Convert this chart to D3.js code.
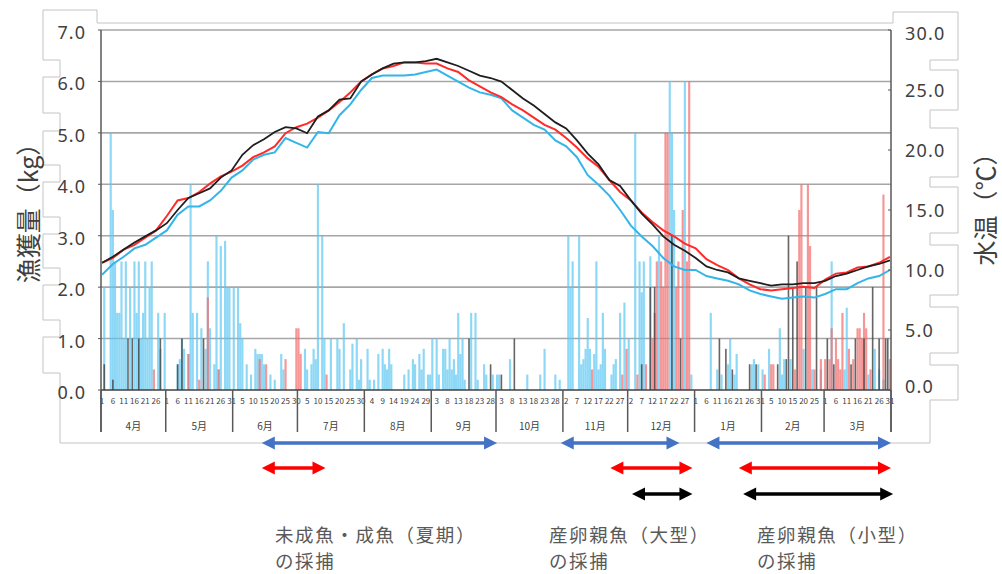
<!DOCTYPE html>
<html><head><meta charset="utf-8">
<script src="https://cdn.jsdelivr.net/npm/d3@7"></script>
<style>
html,body{margin:0;padding:0;background:#fff;}
svg{display:block;}
text{font-family:"Noto Sans CJK JP","Noto Sans",sans-serif;}
.num{font-family:"Noto Sans","DejaVu Sans",sans-serif;}
</style></head><body>
<svg id="chart" width="1002" height="574"></svg>
<script>
// ---------------- DATA ----------------
const months = ["4月","5月","6月","7月","8月","9月","10月","11月","12月","1月","2月","3月"];
const monthLengths = [30,31,30,31,31,30,31,30,31,31,29,31];
const kgTicks = [0,1,2,3,4,5,6,7];
const tempTicks = [0,5,10,15,20,25,30];

// daily catch (kg): [day index from Apr 1, value]
const blueBars = [
[1,2.0],[4,5.0],[5,3.5],[6,2.5],[7,1.5],[8,1.5],[9,2.5],[10,1.0],[11,2.5],[13,2.0],[15,2.5],[16,1.5],[17,2.5],[18,1.0],[19,1.5],[20,2.5],[21,1.0],[22,2.0],[23,2.5],[26,1.5],[27,0.8],[29,1.5],
[35,0.5],[36,0.6],[37,1.0],[38,0.8],[40,0.7],[41,4.0],[42,1.5],[44,1.5],[46,1.2],[48,0.8],[49,2.5],[50,1.2],[52,0.5],[53,3.0],[54,0.4],[55,2.8],[57,2.9],[58,2.0],[59,2.0],[61,2.0],
[63,2.0],[64,1.3],[65,1.0],[67,0.5],[69,0.3],[71,0.8],[72,0.7],[73,0.7],[74,0.7],[75,0.5],[78,0.3],[80,0.2],[83,0.7],[84,0.4],
[94,0.8],[95,0.4],[97,0.5],[98,0.8],[99,0.6],[100,4.0],[102,3.0],[103,1.0],[106,1.0],[109,1.0],[110,0.8],[112,1.3],[115,0.4],[116,0.9],[118,1.0],[119,0.2],[120,0.6],
[123,0.8],[124,0.2],[126,0.2],[128,0.7],[130,0.8],[131,0.5],[132,0.4],[133,0.8],[134,0.5],[140,0.3],[142,0.4],[144,0.6],[145,0.5],[147,0.7],[148,0.4],[149,0.8],[151,0.3],[152,0.3],
[153,1.0],[155,1.0],[156,0.3],[158,0.8],[159,0.8],[160,0.4],[161,1.0],[162,0.4],[163,0.6],[164,0.3],[165,1.5],[166,0.7],[167,1.0],[168,0.2],[171,1.5],[173,1.5],[174,0.2],[177,0.5],[178,0.3],[181,0.3],[183,0.3],
[184,0.3],[189,0.6],[197,0.3],[203,0.3],[205,0.8],[210,0.3],[212,0.2],
[216,3.0],[217,2.0],[218,2.5],[221,3.0],[222,0.5],[223,0.6],[224,0.8],[225,1.4],[226,0.8],[228,0.7],[229,2.5],[230,0.4],[231,0.5],[232,1.5],[233,0.8],[236,0.3],[237,0.5],[238,0.6],[240,1.5],[242,1.7],
[244,1.0],[247,5.0],[249,2.5],[250,1.9],[251,2.5],[254,2.6],[258,3.0],[263,6.0],[264,5.0],[265,3.5],[270,6.0],[273,0.3],
[282,1.5],[285,0.4],[287,0.3],[290,0.5],[291,1.0],[293,0.3],[294,0.7],[301,0.5],[302,0.6],[304,0.5],[306,0.4],
[309,0.8],[314,1.2],[315,0.3],[316,0.6],[319,0.6],[325,0.8],[329,0.4],[333,0.4],
[338,2.5],[344,0.4],[345,1.6],[355,0.3],[358,0.8],[360,0.4],[362,0.2]
];
const redBars = [
[24,0.4],[40,0.7],[45,0.2],[49,1.8],[54,0.4],[73,0.6],[76,0.5],[85,0.6],[90,1.2],[91,1.2],[92,0.7],[104,0.3],
[227,0.4],[241,0.3],[243,0.8],[248,0.3],[252,0.5],[255,1.0],[256,1.5],[257,2.5],[259,2.5],[260,2.0],[261,5.0],[262,5.0],[266,2.0],[267,2.5],[269,3.5],[271,2.5],[272,6.0],
[307,0.3],[310,0.5],[311,0.5],[321,0.4],[323,3.5],[324,4.0],[327,4.0],[328,2.8],[330,0.4],[333,0.6],
[335,0.6],[337,0.6],[338,1.2],[340,1.0],[341,0.6],[342,0.4],[343,1.5],[346,0.8],[348,0.6],[350,1.2],[351,1.2],[352,1.0],[353,1.5],[354,1.2],[356,0.4],[362,3.8],[365,0.6]
];
const blackBars = [
[1,0.5],[5,0.2],[12,1.0],[14,1.0],[17,1.0],[27,1.0],[35,0.5],[37,1.0],[47,1.0],
[170,1.0],[180,0.5],[185,0.3],[191,1.0],
[250,0.5],[254,2.0],[256,2.0],[264,3.0],[268,1.0],
[286,1.0],[289,0.8],[292,0.4],[300,0.5],[303,0.5],
[313,0.5],[317,0.6],[318,3.0],[320,2.0],[322,2.5],[326,2.0],[331,2.0],
[336,1.0],[339,0.5],[347,0.5],[349,1.0],[353,1.0],[357,2.0],[360,1.0],[363,1.0],[364,1.0]
];

// water temperature (°C) every 5 days from Apr 1
const tempDays = d3.range(0, 366, 5);
const tempBlue = [9.6,10.5,11.1,11.8,12.1,12.7,13.3,14.6,15.3,15.3,15.8,16.6,17.7,18.3,19.2,19.6,19.8,21.0,20.6,20.2,21.5,21.4,22.9,23.8,25.0,26.0,26.2,26.2,26.2,26.3,26.5,26.7,26.2,25.7,25.2,24.8,24.6,24.3,23.3,22.7,22.1,21.7,20.8,20.3,19.4,17.9,17.1,16.2,15.0,13.7,12.8,12.0,11.0,10.3,10.0,10.0,9.5,9.3,9.1,8.8,8.3,8.0,7.8,7.6,7.7,7.8,7.7,8.0,8.4,8.4,8.9,9.3,9.5,10.0];
const tempRed = [10.6,11.0,11.7,12.1,12.7,13.3,14.5,15.8,16.0,16.5,17.2,17.8,18.2,18.7,19.4,19.8,20.3,21.4,21.9,22.2,22.7,23.3,24.0,24.8,25.7,26.3,26.8,27.0,27.3,27.3,27.2,27.2,26.8,26.5,25.8,25.3,24.8,24.4,23.8,23.3,22.7,22.1,21.7,21.0,20.2,19.3,18.6,17.5,16.5,15.8,14.8,14.0,13.3,12.8,12.2,11.8,10.9,10.4,10.0,9.3,8.8,8.4,8.3,8.4,8.5,8.6,8.5,9.2,9.7,9.8,10.2,10.3,10.6,11.1];
const tempBlack = [10.6,11.1,11.7,12.3,12.8,13.3,13.9,15.0,16.0,16.4,16.8,17.7,18.3,19.6,20.4,20.9,21.5,21.9,21.8,21.4,22.8,23.3,24.2,24.3,25.7,26.3,26.8,27.2,27.3,27.3,27.4,27.6,27.3,27.0,26.6,26.2,26.0,25.7,25.0,24.3,23.7,23.0,22.3,21.8,20.8,19.7,18.8,17.5,17.0,15.8,14.7,13.8,12.8,12.1,11.6,11.0,10.3,10.0,9.8,9.3,9.1,8.9,8.7,8.8,8.8,8.9,8.9,9.1,9.5,9.7,10.0,10.3,10.5,10.8];

// capture periods (day index, from -> to), row in the arrow block
const periodSeries = ["blue","blue","blue","red","red","red","black","black"];
const periodRows   = [0,0,0,1,1,1,2,2];
const periodFrom   = [74.5,213,280.5,74.5,236,295.5,246,297.5];
const periodTo     = [183.5,268,366,104,274,366,274,367];
const periodLabels = [["未成魚・成魚（夏期）","の採捕"],["産卵親魚（大型）","の採捕"],["産卵親魚（小型）","の採捕"]];

// ---------------- CHART ----------------
const svg = d3.select("#chart");
const W = 1002, H = 574;
const L = 101, R = 891, T = 30, B = 390;
const nDays = d3.sum(monthLengths);
const xBand = d3.scaleBand().domain(d3.range(nDays)).range([L, R]).padding(0);
const xLin = d3.scaleLinear().domain([0, nDays]).range([L, R]);
const bw = xBand.bandwidth();
const yKg = d3.scaleLinear().domain([0, 7]).range([B, T]);
const yT = d3.scaleLinear().domain([0, 30]).range([B, T]);

svg.append("rect").attr("width", W).attr("height", H).attr("fill", "#fff");

// decorative outline
const outline = [[97,23],[97,10],[43,10],[43,60],[60,60],[60,77],[43,77],[43,113],[60,113],[60,131],[43,131],[43,165],[60,165],[60,182],[43,182],[43,217],[60,217],[60,234],[43,234],[43,268],[60,268],[60,285],[43,285],[43,320],[60,320],[60,337],[43,337],[43,373],[60,373],[60,443],
[930,443],[930,400],[958,400],[958,365],[930,365],[930,353],[958,353],[958,307],[930,307],[930,295],[958,295],[958,245],[930,245],[930,233],[958,233],[958,187],[930,187],[930,177],[958,177],[958,128],[930,128],[930,110],[958,110],[958,70],[930,70],[930,60],[958,60],[958,12],[893,12],[893,23]];
svg.append("path").attr("d", d3.line()(outline) + "Z").attr("fill", "none").attr("stroke", "#c4c4c4").attr("stroke-width", 1);

// gridlines
svg.append("g").selectAll("line").data(kgTicks.filter(d => d > 0)).join("line")
  .attr("x1", L).attr("x2", R).attr("y1", d => yKg(d)).attr("y2", d => yKg(d))
  .attr("stroke", "#a6a6a6").attr("stroke-width", 1.6);

// bars
function drawBars(data, fill, op, wf) {
  svg.append("g").selectAll("rect").data(data).join("rect")
    .attr("x", d => xBand(d[0]) + bw * (1 - wf) / 2)
    .attr("width", bw * wf)
    .attr("y", d => yKg(d[1]))
    .attr("height", d => yKg(0) - yKg(d[1]))
    .attr("fill", fill).attr("fill-opacity", op);
}
drawBars(blueBars, "#5cc8f2", 0.7, 1);
drawBars(redBars, "#f26a6a", 0.7, 1);
drawBars(blackBars, "#404040", 0.8, 0.75);

// temperature lines
const lineGen = vals => d3.line().x((d, i) => xBand(tempDays[i]) + bw / 2).y(d => yT(d))(vals);
svg.append("path").attr("d", lineGen(tempBlue)).attr("fill", "none").attr("stroke", "#33b5ea").attr("stroke-width", 2);
svg.append("path").attr("d", lineGen(tempRed)).attr("fill", "none").attr("stroke", "#ff2a2a").attr("stroke-width", 2);
svg.append("path").attr("d", lineGen(tempBlack)).attr("fill", "none").attr("stroke", "#1e1e1e").attr("stroke-width", 1.8);

// axes frame
svg.append("line").attr("x1", L).attr("x2", R).attr("y1", B).attr("y2", B).attr("stroke", "#404040").attr("stroke-width", 1.5);
svg.append("line").attr("x1", L).attr("x2", L).attr("y1", T).attr("y2", 432).attr("stroke", "#595959").attr("stroke-width", 1.5);
svg.append("line").attr("x1", R).attr("x2", R).attr("y1", T).attr("y2", 432).attr("stroke", "#595959").attr("stroke-width", 1.5);

// left ticks + labels
const gl = svg.append("g");
gl.selectAll("line").data(kgTicks).join("line")
  .attr("x1", L - 3).attr("x2", L).attr("y1", d => yKg(d)).attr("y2", d => yKg(d)).attr("stroke", "#595959");
gl.selectAll("text").data(kgTicks).join("text").attr("class", "num")
  .attr("x", 86).attr("y", d => yKg(d) + 2).attr("text-anchor", "end").attr("dominant-baseline", "central")
  .attr("font-size", 18).attr("letter-spacing", 1).attr("fill", "#404040").text(d => d.toFixed(1));

// right ticks + labels
const gr = svg.append("g");
gr.selectAll("line").data(tempTicks).join("line")
  .attr("x1", R - 3).attr("x2", R).attr("y1", d => yT(d)).attr("y2", d => yT(d)).attr("stroke", "#595959");
gr.selectAll("text").data(tempTicks).join("text").attr("class", "num")
  .attr("x", 905).attr("y", d => yT(d) + (d === 0 ? -4 : d === 30 ? 3 : 0)).attr("dominant-baseline", "central")
  .attr("font-size", 18).attr("letter-spacing", 1.2).attr("fill", "#404040").text(d => d.toFixed(1));

// axis titles
svg.append("text").attr("transform", "translate(27,207) rotate(-90)").attr("text-anchor", "middle")
  .attr("dominant-baseline", "central").attr("font-size", 25).attr("fill", "#404040").text("漁獲量（kg）");
svg.append("text").attr("transform", "translate(984,203) rotate(-90)").attr("text-anchor", "middle")
  .attr("dominant-baseline", "central").attr("font-size", 25).attr("fill", "#404040").text("水温（℃）");

// day-of-month labels
const dom = [];
monthLengths.forEach(n => { for (let i = 1; i <= n; i++) dom.push(i); });
const dayAxis = d3.axisBottom(xBand).tickValues(d3.range(0, nDays, 5)).tickFormat(d => dom[d]).tickSize(0).tickPadding(0);
const ga = svg.append("g").attr("transform", `translate(0,${B + 8})`).call(dayAxis);
ga.select(".domain").remove();
ga.selectAll("text").attr("font-size", 8).attr("fill", "#404040").attr("font-family", "Noto Sans, sans-serif");

// month separators and labels
const cum = [0]; monthLengths.forEach((n, i) => cum.push(cum[i] + n));
svg.append("g").selectAll("line").data(cum).join("line")
  .attr("x1", d => xLin(d)).attr("x2", d => xLin(d)).attr("y1", B).attr("y2", 432)
  .attr("stroke", "#595959").attr("stroke-width", 1.5);
svg.append("g").selectAll("text").data(months).join("text")
  .attr("x", (d, i) => xLin((cum[i] + cum[i + 1]) / 2)).attr("y", 425)
  .attr("text-anchor", "middle").attr("dominant-baseline", "central")
  .attr("font-size", 10).attr("fill", "#404040").text(d => d);

// capture period arrows
const arrowColor = {blue: "#4472c4", red: "#ff0000", black: "#000000"};
const rowY = [443, 468, 494];
const hl = 13, hh = 6.5;
periodFrom.forEach((f, i) => {
  const x1 = xLin(f), x2 = xLin(periodTo[i]), y = rowY[periodRows[i]], c = arrowColor[periodSeries[i]];
  const g = svg.append("g");
  g.append("line").attr("x1", x1 + hl - 1).attr("x2", x2 - hl + 1).attr("y1", y).attr("y2", y).attr("stroke", c).attr("stroke-width", 3.5);
  g.append("path").attr("d", `M${x1},${y} L${x1 + hl},${y - hh} L${x1 + hl},${y + hh} Z`).attr("fill", c);
  g.append("path").attr("d", `M${x2},${y} L${x2 - hl},${y - hh} L${x2 - hl},${y + hh} Z`).attr("fill", c);
});

// period labels
const labelX = [275, 549, 757];
periodLabels.forEach((lines, i) => {
  lines.forEach((s, j) => {
    svg.append("text").attr("x", labelX[i]).attr("y", 534 + j * 26).attr("dominant-baseline", "central")
      .attr("font-size", 18.5).attr("letter-spacing", 1.6).attr("fill", "#595959").text(s);
  });
});
</script>
</body></html>
